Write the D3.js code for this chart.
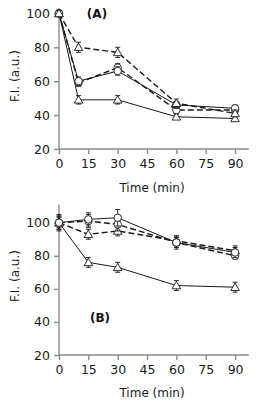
<!DOCTYPE html>
<html>
<head>
<meta charset="utf-8">
<script src="https://cdn.jsdelivr.net/npm/d3@7"></script>
<style>
  body { margin: 0; background: #fff; }
  text { font-family: "DejaVu Sans", Verdana, sans-serif; }
</style>
</head>
<body>
<div id="chart"></div>
<script>
// time points (panel A uses 10 min for the 2nd reading)
var timesA = [0, 10, 30, 60, 90];
var timesB = [0, 15, 30, 60, 90];
var xTicks = [0, 15, 30, 45, 60, 75, 90];
var yTicks = [20, 40, 60, 80, 100];

// panel A
var solidCircleA = [100, 60, 66, 46, 44];
var solidCircleAErr = [1.5, 2.5, 2.5, 2, 2];
var dashedCircleA = [100, 59, 68, 43, 43];
var dashedCircleAErr = [1.5, 2, 2.5, 2, 1.5];
var dashedTriA = [100, 80, 77, 47, 41];
var dashedTriAErr = [1.5, 3, 3, 2.5, 2];
var solidTriA = [100, 49, 49, 39, 38];
var solidTriAErr = [2, 2.5, 2.5, 1.5, 1.5];

// panel B
var solidCircleB = [100, 102, 103, 88, 82];
var solidCircleBErr = [4, 4, 5, 4, 3];
var dashedCircleB = [100, 101, 99, 88, 80];
var dashedCircleBErr = [5, 4, 4, 3, 2];
var dashedTriB = [100, 93, 95, 89, 83];
var dashedTriBErr = [4, 3, 3, 3, 3];
var solidTriB = [100, 76, 73, 62, 61];
var solidTriBErr = [3, 3, 3, 3, 3];

var width = 273, height = 402;
var axisColour = '#8a8a8a';
var lineColour = '#1a1a1a';

var svg = d3.select('#chart').append('svg')
  .attr('width', width)
  .attr('height', height);

var x = d3.scaleLinear().domain([0, 97]).range([59, 248.8]);

function drawPanel(cfg) {
  var y = d3.scaleLinear().domain(cfg.yDomain).range(cfg.yRange);
  var g = svg.append('g');

  // axes
  var xAxis = d3.axisBottom(x).tickValues(xTicks).tickSize(5).tickPadding(5);
  var yAxis = d3.axisLeft(y).tickValues(yTicks).tickSize(5).tickPadding(4);

  var gx = g.append('g').attr('transform', 'translate(0,' + y(20) + ')').call(xAxis);
  var gy = g.append('g').attr('transform', 'translate(' + x(0) + ',0)').call(yAxis);
  [gx, gy].forEach(function (a) {
    a.select('.domain').attr('stroke', axisColour).attr('stroke-width', 1.4);
    a.selectAll('.tick line').attr('stroke', axisColour).attr('stroke-width', 1.4);
    a.selectAll('.tick text').attr('fill', '#1a1a1a').attr('font-size', 12.5)
      .attr('font-family', '"DejaVu Sans", Verdana, sans-serif');
  });
  gx.select('.domain').attr('d', 'M' + x(0) + ',0H' + x(97));
  gy.select('.domain').attr('d', 'M0,' + y(cfg.yDomain[1]) + 'V' + y(20));

  g.append('text')
    .attr('x', 152).attr('y', cfg.xLabelY)
    .attr('text-anchor', 'middle').attr('font-size', 12).attr('fill', '#1a1a1a')
    .text('Time (min)');

  g.append('text')
    .attr('transform', 'translate(19,' + cfg.yLabelY + ') rotate(-90)')
    .attr('text-anchor', 'middle').attr('font-size', 12).attr('fill', '#1a1a1a')
    .text('F.I. (a.u.)');

  g.append('text')
    .attr('x', cfg.tagX).attr('y', cfg.tagY)
    .attr('text-anchor', 'middle').attr('font-size', 12).attr('font-weight', 'bold')
    .attr('fill', '#111')
    .text(cfg.tag);

  var line = d3.line()
    .x(function (d) { return x(d.t); })
    .y(function (d) { return y(d.v); });

  cfg.series.forEach(function (s) {
    var pts = cfg.times.map(function (t, i) { return { t: t, v: s.values[i], e: s.err[i] }; });
    var sg = g.append('g');
    sg.append('path')
      .datum(pts)
      .attr('d', line)
      .attr('fill', 'none')
      .attr('stroke', lineColour)
      .attr('stroke-width', s.dashed ? 1.4 : 1)
      .attr('stroke-dasharray', s.dashed ? '6,3' : null);

    // error bars
    var eb = sg.selectAll('.eb').data(pts).enter().append('g');
    eb.append('line')
      .attr('x1', function (d) { return x(d.t); })
      .attr('x2', function (d) { return x(d.t); })
      .attr('y1', function (d) { return y(d.v + d.e); })
      .attr('y2', function (d) { return y(d.v - d.e); })
      .attr('stroke', lineColour).attr('stroke-width', 0.9);
    [1, -1].forEach(function (sgn) {
      eb.append('line')
        .attr('x1', function (d) { return x(d.t) - 2.5; })
        .attr('x2', function (d) { return x(d.t) + 2.5; })
        .attr('y1', function (d) { return y(d.v + sgn * d.e); })
        .attr('y2', function (d) { return y(d.v + sgn * d.e); })
        .attr('stroke', lineColour).attr('stroke-width', 0.9);
    });

    // markers
    var sym = d3.symbol().type(s.marker === 'circle' ? d3.symbolCircle : d3.symbolTriangle)
      .size(s.marker === 'circle' ? 44 : 32);
    sg.selectAll('.mk').data(pts).enter().append('path')
      .attr('d', sym)
      .attr('transform', function (d) {
        return 'translate(' + x(d.t) + ',' + (y(d.v) + (s.marker === 'circle' ? 0 : 0.8)) + ')';
      })
      .attr('fill', '#fff')
      .attr('stroke', lineColour)
      .attr('stroke-width', 0.9);
  });
}

drawPanel({
  yDomain: [20, 103],
  yRange: [149, 8.3],
  times: timesA,
  xLabelY: 192,
  yLabelY: 76,
  tag: '(A)', tagX: 97, tagY: 18,
  series: [
    { values: solidTriA, err: solidTriAErr, dashed: false, marker: 'triangle' },
    { values: dashedCircleA, err: dashedCircleAErr, dashed: true, marker: 'circle' },
    { values: solidCircleA, err: solidCircleAErr, dashed: false, marker: 'circle' },
    { values: dashedTriA, err: dashedTriAErr, dashed: true, marker: 'triangle' }
  ]
});

drawPanel({
  yDomain: [20, 111],
  yRange: [355, 204.5],
  times: timesB,
  xLabelY: 397,
  yLabelY: 276,
  tag: '(B)', tagX: 100, tagY: 322,
  series: [
    { values: solidTriB, err: solidTriBErr, dashed: false, marker: 'triangle' },
    { values: dashedTriB, err: dashedTriBErr, dashed: true, marker: 'triangle' },
    { values: dashedCircleB, err: dashedCircleBErr, dashed: true, marker: 'circle' },
    { values: solidCircleB, err: solidCircleBErr, dashed: false, marker: 'circle' }
  ]
});
</script>
</body>
</html>
